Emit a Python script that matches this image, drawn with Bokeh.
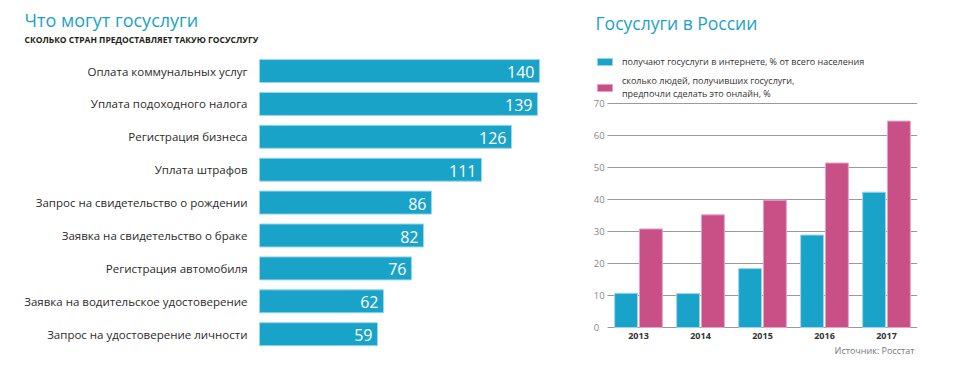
from bokeh.plotting import figure
from bokeh.models import (Range1d, Label, Legend, LegendItem, FixedTicker,
                          ColumnDataSource, LinearAxis, Grid)
from bokeh.layouts import row
from bokeh.transform import dodge
from bokeh.core.properties import value
from bokeh.embed import file_html
from bokeh.resources import INLINE

# ---- data ----
services = [
    "Оплата коммунальных услуг",
    "Уплата подоходного налога",
    "Регистрация бизнеса",
    "Уплата штрафов",
    "Запрос на свидетельство о рождении",
    "Заявка на свидетельство о браке",
    "Регистрация автомобиля",
    "Заявка на водительское удостоверение",
    "Запрос на удостоверение личности",
]
countries = [140, 139, 126, 111, 86, 82, 76, 62, 59]

years = ["2013", "2014", "2015", "2016", "2017"]
online_share = [10.7, 10.6, 18.4, 28.9, 42.3]
prefer_online = [30.8, 35.2, 39.8, 51.4, 64.5]
y_ticks = [0, 10, 20, 30, 40, 50, 60, 70]

BLUE = "#1aa3c8"
PINK = "#c95086"
FONT = "Open Sans"
H = 376

# ---- left chart ----
left = figure(width=580, height=H, output_backend="svg", toolbar_location=None,
              x_range=Range1d(-129.5, 160.5), y_range=Range1d(8.7386, -2.1429),
              x_axis_location=None, y_axis_location=None,
              min_border_left=0, min_border_right=0, min_border_top=0,
              min_border_bottom=18, outline_line_color=None)
left.grid.visible = False

src_l = ColumnDataSource(dict(row=list(range(len(services))), service=services,
                              count=countries, label=[str(c) for c in countries]))
left.hbar(y="row", left=0, right="count", height=0.70, source=src_l,
          fill_color=BLUE, line_color="#9ad7ea", line_width=1)
left.text(x=0, y="row", text="service", source=src_l, x_offset=-12,
          text_align="right", text_baseline="middle", text_font=value(FONT),
          text_font_size="11.5px", text_color="#2b2b2b")
left.text(x="count", y="row", text="label", source=src_l, x_offset=-5, y_offset=1,
          text_align="right", text_baseline="middle", text_font=value(FONT),
          text_font_size="16px", text_color="white")

left.add_layout(Label(x=-117.5, y=-1.535, text="Что могут госуслуги", text_font=FONT,
                      text_font_size="18px", text_color=BLUE, text_baseline="middle"))
left.add_layout(Label(x=-117.5, y=-0.958, text="СКОЛЬКО СТРАН ПРЕДОСТАВЛЯЕТ ТАКУЮ ГОСУСЛУГУ",
                      text_font=FONT, text_font_size="8.5px", text_font_style="bold",
                      text_color="#231f20", text_baseline="middle"))

# ---- right chart ----
right = figure(width=380, height=H, output_backend="svg", toolbar_location=None,
               x_range=Range1d(-0.7258, 4.5), y_range=Range1d(-9.6875, 102.1875),
               y_axis_location=None,
               min_border_left=13, min_border_right=43, min_border_top=0,
               min_border_bottom=18, outline_line_color=None)
right.grid.visible = False

src_r = ColumnDataSource(dict(idx=list(range(len(years))), online=online_share,
                              prefer=prefer_online))

# horizontal rules limited to the bar area
right.add_layout(Grid(dimension=1, ticker=FixedTicker(ticks=y_ticks),
                      cross_bounds=(-0.5, 4.5), grid_line_color="#9a9a9a",
                      grid_line_width=1))

b1 = right.vbar(x=dodge("idx", -0.2), top="online", width=0.37, source=src_r,
                fill_color=BLUE, line_color="#9ad7ea", line_width=1)
b2 = right.vbar(x=dodge("idx", 0.2), top="prefer", width=0.37, source=src_r,
                fill_color=PINK, line_color="#e6a3c2", line_width=1)

# value labels, left-aligned just left of the rules
ylabels = LinearAxis(ticker=FixedTicker(ticks=y_ticks), fixed_location=-0.722,
                     major_tick_in=0, major_tick_out=0, major_tick_line_color=None,
                     minor_tick_line_color=None, axis_line_color=None,
                     major_label_standoff=0, major_label_text_font=FONT,
                     major_label_text_font_size="9.5px",
                     major_label_text_color="#888888")
right.add_layout(ylabels, "right")

# category axis sitting on the zero line
xa = right.xaxis[0]
xa.ticker = FixedTicker(ticks=list(range(len(years))))
xa.major_label_overrides = {i: y for i, y in enumerate(years)}
xa.fixed_location = 0
xa.major_tick_in = 0
xa.major_tick_out = 0
xa.major_tick_line_color = None
xa.minor_tick_line_color = None
xa.axis_line_color = None
xa.major_label_standoff = 5
xa.major_label_text_font = FONT
xa.major_label_text_font_size = "9px"
xa.major_label_text_font_style = "bold"
xa.major_label_text_color = "#333333"

right.add_layout(Label(x=-0.6935, y=95.3, text="Госуслуги в России", text_font=FONT,
                       text_font_size="17.5px", text_color=BLUE, text_baseline="middle"))
right.add_layout(Label(x=4.452, y=-7.19, text="Источник: Росстат", text_font=FONT,
                       text_font_size="9px", text_color="#777777",
                       text_align="right", text_baseline="middle"))

legend = Legend(items=[
    LegendItem(label="получают госуслуги в интернете, % от всего населения", renderers=[b1]),
    LegendItem(label="сколько людей, получивших госуслуги,\nпредпочли сделать это онлайн, %",
               renderers=[b2]),
], location=(2, 258), padding=0, margin=0, border_line_color=None,
   background_fill_alpha=0, glyph_width=19, glyph_height=9, label_standoff=8,
   spacing=6, label_text_font=FONT, label_text_font_size="9px",
   label_text_color="#333333")
right.add_layout(legend, "center")

layout = row(left, right)
open("out.html", "w").write(file_html(layout, INLINE))
